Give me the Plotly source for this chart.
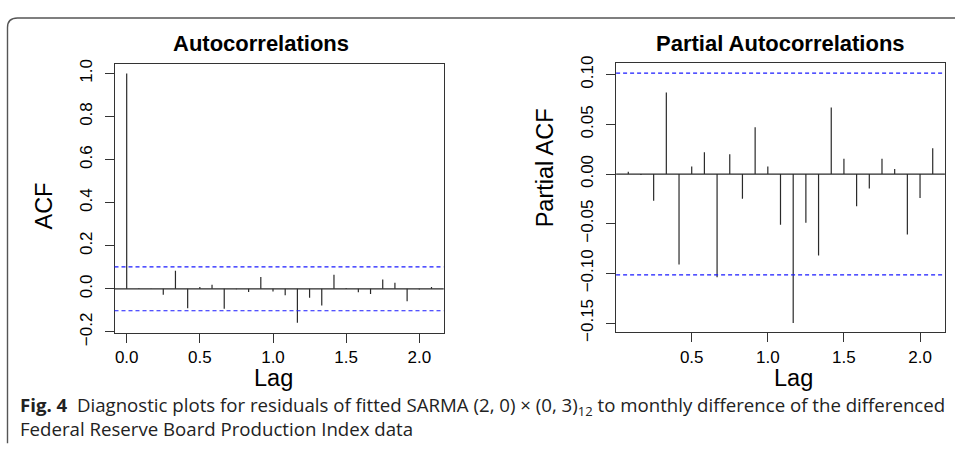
import plotly.graph_objects as go

# ---------------- data ----------------
acf_lags = [0.0, 0.0833, 0.1667, 0.25, 0.3333, 0.4167, 0.5, 0.5833, 0.6667, 0.75,
            0.8333, 0.9167, 1.0, 1.0833, 1.1667, 1.25, 1.3333, 1.4167, 1.5, 1.5833,
            1.6667, 1.75, 1.8333, 1.9167, 2.0, 2.0833]
acf_vals = [1.0, 0.003, 0.002, -0.027, 0.084, -0.090, 0.009, 0.019, -0.092, -0.002,
            -0.015, 0.055, -0.012, -0.030, -0.157, -0.041, -0.077, 0.065, 0.004, -0.016,
            -0.024, 0.043, 0.028, -0.058, -0.003, 0.009]

pacf_lags = acf_lags[1:]
pacf_vals = [0.0023, -0.001, -0.027, 0.082, -0.091, 0.0075, 0.022, -0.104, 0.020, -0.025,
             0.047, 0.0075, -0.051, -0.150, -0.049, -0.082, 0.067, 0.0155, -0.0325, -0.0145,
             0.0155, 0.0052, -0.061, -0.024, 0.026]

conf_limit = 0.1016

acf_yticks = [-0.2, 0.0, 0.2, 0.4, 0.6, 0.8, 1.0]
acf_yticktext = ["\u22120.2", "0.0", "0.2", "0.4", "0.6", "0.8", "1.0"]
acf_xticks = [0.0, 0.5, 1.0, 1.5, 2.0]
acf_xticktext = ["0.0", "0.5", "1.0", "1.5", "2.0"]
pacf_yticks = [-0.15, -0.10, -0.05, 0.0, 0.05, 0.10]
pacf_yticktext = ["\u22120.15", "\u22120.10", "\u22120.05", "0.00", "0.05", "0.10"]
pacf_xticks = [0.5, 1.0, 1.5, 2.0]
pacf_xticktext = ["0.5", "1.0", "1.5", "2.0"]

caption_line1 = ("<b>Fig. 4</b>  Diagnostic plots for residuals of fitted SARMA (2, 0) \u00d7 "
                 "(0, 3)<sub>12</sub> to monthly difference of the differenced")
caption_line2 = "Federal Reserve Board Production Index data"

# ---------------- layout helpers ----------------
W, H = 955, 463
def px(x):
    return x / W
def py(y):
    return 1 - y / H

def spikes(lags, vals):
    xs, ys = [], []
    for l, v in zip(lags, vals):
        xs += [l, l, None]
        ys += [0, v, None]
    return xs, ys

FONT = "Liberation Sans, Arial, Helvetica, sans-serif"
CAP = "Open Sans, Noto Sans, sans-serif"
spike_col = "#2a2a2a"

fig = go.Figure()
x1, y1 = spikes(acf_lags, acf_vals)
fig.add_trace(go.Scatter(x=x1, y=y1, mode="lines", line=dict(color=spike_col, width=1.2),
                         xaxis="x", yaxis="y", showlegend=False, hoverinfo="skip"))
x2, y2 = spikes(pacf_lags, pacf_vals)
fig.add_trace(go.Scatter(x=x2, y=y2, mode="lines", line=dict(color=spike_col, width=1.2),
                         xaxis="x2", yaxis="y2", showlegend=False, hoverinfo="skip"))

shapes = []
for xr, yr in (("x domain", "y"), ("x2 domain", "y2")):
    shapes.append(dict(type="line", xref=xr, yref=yr, x0=0, x1=1, y0=0, y1=0,
                       line=dict(color=spike_col, width=1.2), layer="above"))
    for c in (conf_limit, -conf_limit):
        shapes.append(dict(type="line", xref=xr, yref=yr, x0=0, x1=1, y0=c, y1=c,
                           line=dict(color="#1a1aff", width=1.2, dash="4px,3px"), layer="above"))

# figure frame with rounded top-left corner
fx0, fy0, r = 7.5, 11.5, 10
path = (f"M {px(fx0)},{py(457)} L {px(fx0)},{py(fy0 + r)} "
        f"Q {px(fx0)},{py(fy0)} {px(fx0 + r)},{py(fy0)} L {px(955)},{py(fy0)}")
shapes.append(dict(type="path", xref="paper", yref="paper", path=path,
                   line=dict(color="#555555", width=1.4)))

axis_common = dict(showline=True, mirror=True, linecolor="#333333", linewidth=1,
                   ticks="outside", ticklen=9, tickcolor="#333333", tickwidth=1,
                   showgrid=False, zeroline=False,
                   tickfont=dict(family=FONT, size=17, color="black"))

fig.update_layout(
    width=W, height=H, margin=dict(l=0, r=0, t=0, b=0),
    paper_bgcolor="white", plot_bgcolor="white",
    xaxis=dict(domain=[px(114.5), px(443.7)], range=[-0.0833, 2.1667], anchor="y",
               tickvals=acf_xticks, ticktext=acf_xticktext, ticklabelstandoff=0, **axis_common),
    yaxis=dict(domain=[py(341), py(59.2)], range=[-0.2028, 1.0463], anchor="x",
               tickvals=acf_yticks, ticktext=acf_yticktext, tickangle=-90,
               ticklabelstandoff=6, **axis_common),
    xaxis2=dict(domain=[px(616.1), px(944.9)], range=[0.0033, 2.1633], anchor="y2",
                tickvals=pacf_xticks, ticktext=pacf_xticktext, ticklabelstandoff=0, **axis_common),
    yaxis2=dict(domain=[py(340.9), py(59)], range=[-0.1595, 0.1115], anchor="x2",
                tickvals=pacf_yticks, ticktext=pacf_yticktext, tickangle=-90,
                ticklabelstandoff=6, **axis_common),
    shapes=shapes,
)

ann = []
def add_text(text, x, y, size, family=FONT, angle=0, xanchor="center", bold=False, color="black"):
    t = f"<b>{text}</b>" if bold else text
    ann.append(dict(text=t, x=px(x), y=py(y), xref="paper", yref="paper", showarrow=False,
                    xanchor=xanchor, yanchor="middle", textangle=angle, align="left",
                    font=dict(family=family, size=size, color=color)))

add_text("Autocorrelations", 261, 38, 22, bold=True)
add_text("Partial Autocorrelations", 780, 38, 22, bold=True)
add_text("Lag", 273, 389, 23.5)
add_text("Lag", 793, 389, 23.5)
add_text("ACF", 44, 209, 23.5, angle=-90)
add_text("Partial ACF", 545, 169, 23.5, angle=-90)
add_text(caption_line1 + "<br>" + caption_line2, 18, 429, 18.65, family=CAP, xanchor="left",
         color="#222222")
fig.update_layout(annotations=ann)

fig.write_html("out.html", config={"displayModeBar": False},
               post_script="document.body.style.margin='0';document.body.style.padding='0';")
